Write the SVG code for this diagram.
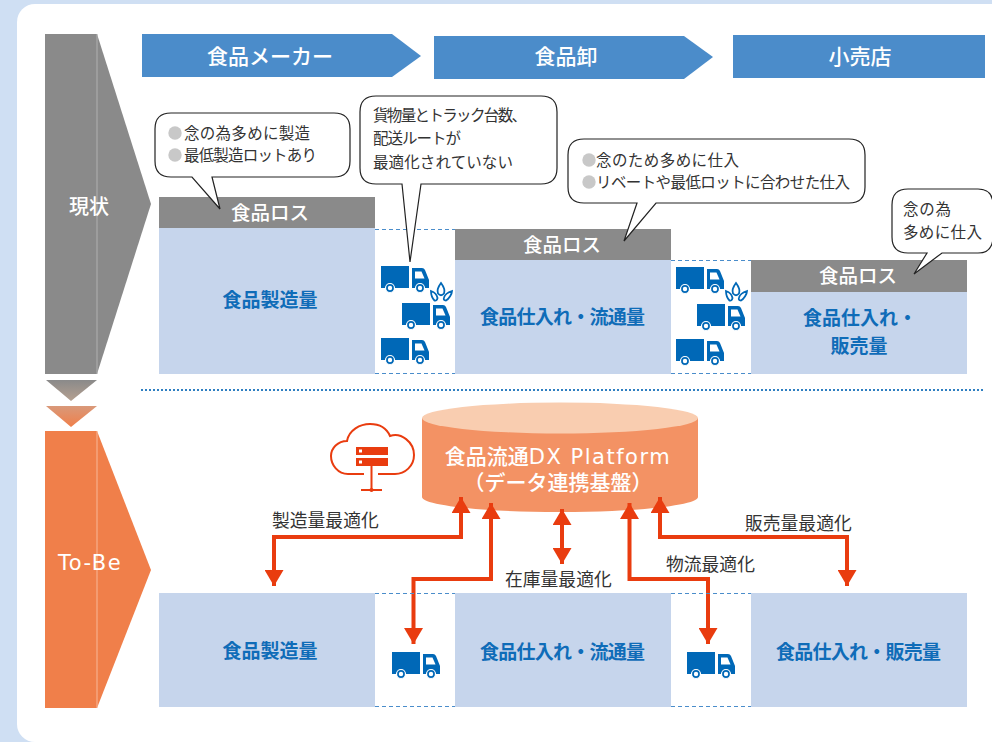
<svg xmlns="http://www.w3.org/2000/svg" width="992" height="742" viewBox="0 0 992 742">
<style>
text{font-family:"Noto Sans CJK JP","Noto Sans",sans-serif}
.hd{font-size:21px;font-weight:500;fill:#fff;text-anchor:middle}
.loss{font-size:19.500px;font-weight:500;fill:#fff;text-anchor:middle}
.vol{font-size:19px;font-weight:700;fill:#0f6cb8;text-anchor:middle}
.note{font-size:15.500px;fill:#333}
.lbl{font-size:17.800px;fill:#333}
.dot{fill:#c8c8c8}
.band{fill:#c6d5ec}
.lossbar{fill:#8a8a8a}
.bubble{fill:#fff;stroke:#222;stroke-width:1.2}
.gap{fill:none;stroke:#4a8dcb;stroke-width:1;stroke-dasharray:4 3}
.link{fill:none;stroke:#e93c0f;stroke-width:4}
.side{font-size:20px;font-weight:500;fill:#fff;text-anchor:middle}
.pf{font-size:21px;font-weight:500;fill:#fff;text-anchor:middle}
.latin{font-family:"DejaVu Sans",sans-serif;font-weight:400;letter-spacing:1.500px}
</style>
<defs>
<g id="truck">
<path d="M0 0H28V22H0Z" fill="#0068b7"/>
<path d="M31 2H41Q43 2 44 4L48 14V22H31Z" fill="#0068b7"/>
<path d="M34 5.500H40.500L43.500 12.500H34Z" fill="#fff"/>
<circle cx="9" cy="22" r="4.500" fill="#0068b7" stroke="#fff" stroke-width="1.200"/>
<circle cx="9" cy="22" r="2.200" fill="#fff"/>
<circle cx="39" cy="22" r="4.500" fill="#0068b7" stroke="#fff" stroke-width="1.200"/>
<circle cx="39" cy="22" r="2.200" fill="#fff"/>
</g>
<g id="splash" fill="#fff" stroke="#0068b7" stroke-width="1.800">
<path d="M10 0C13 4 14 8 13 10.500Q10 14 7 10.500C6 8 7 4 10 0Z"/>
<path d="M0 8C3 9 6 12 6.500 15Q6 18 3.500 17.500C1 15 0 12 0 8Z"/>
<path d="M21 8C21 11 18 16 15 17.500Q12 17.500 13 14.500C14 11 18 9 21 8Z"/>
</g>
<marker id="ah" markerUnits="userSpaceOnUse" markerWidth="17" markerHeight="19" refX="16" refY="9.500" orient="auto-start-reverse">
<path d="M0 0L16 9.500L0 19Z" fill="#e93c0f"/>
</marker>
<linearGradient id="g1" x1="0" y1="0" x2="0" y2="1"><stop offset="0" stop-color="#8a8a8a"/><stop offset="1" stop-color="#b5a090"/></linearGradient>
<linearGradient id="g2" x1="0" y1="0" x2="0" y2="1"><stop offset="0" stop-color="#d9997a"/><stop offset="1" stop-color="#f07f4a"/></linearGradient>
</defs>

<rect width="992" height="742" fill="#cfdff3"/>
<rect x="17" y="4" width="1000" height="738" rx="18" fill="#fff"/>

<g id="side-current">
<path d="M45 34H97L151 204L97 374H45Z" fill="#8a8a8a"/>
<path d="M97 34V374" stroke="#b0b0b0" stroke-width="1"/>
<text class="side" x="89" y="214">現状</text>
</g>
<g id="transition">
<path d="M46 380H97L71 401Z" fill="url(#g1)"/>
<path d="M46 406H97L71 427Z" fill="url(#g2)"/>
</g>
<g id="side-tobe">
<path d="M45 431H97L151 570L97 708H45Z" fill="#f07f4a"/>
<path d="M97 431V708" stroke="#f8b898" stroke-width="1"/>
<text class="side latin" x="90" y="570" font-size="21" style="font-size:21px">To-Be</text>
</g>

<g id="header-maker">
<path d="M142 34H392L421 56L392 77H142Z" fill="#4b8cca"/>
<text class="hd" x="270" y="64">食品メーカー</text>
</g>
<g id="header-wholesale">
<path d="M434 36H684L713 57L684 79H434Z" fill="#4b8cca"/>
<text class="hd" x="566" y="64">食品卸</text>
</g>
<g id="header-retail">
<rect x="733" y="35" width="252" height="43" fill="#4b8cca"/>
<text class="hd" x="860" y="64">小売店</text>
</g>

<g id="divider"><path d="M141 390H985" stroke="#2f7fc1" stroke-width="2" stroke-dasharray="2 2" fill="none"/></g>

<g id="maker-current">
<rect class="band" x="159" y="228" width="216" height="146"/>
<rect class="lossbar" x="159" y="197" width="216" height="31"/>
<text class="loss" x="270" y="220">食品ロス</text>
<text class="vol" x="270" y="307">食品製造量</text>
</g>
<g id="gap-current-1">
<path class="gap" d="M375 229.500H455M375 373.500H455"/>
<use href="#truck" x="381" y="266"/>
<use href="#truck" x="402" y="303"/>
<use href="#truck" x="381" y="338"/>
<use href="#splash" x="431" y="283"/>
</g>
<g id="wholesale-current">
<rect class="band" x="455" y="260" width="216" height="114"/>
<rect class="lossbar" x="455" y="229" width="216" height="31"/>
<text class="loss" x="562" y="252">食品ロス</text>
<text class="vol" x="562.500" y="324" textLength="165">食品仕入れ・流通量</text>
</g>
<g id="gap-current-2">
<path class="gap" d="M671 260.500H751M671 373.500H751"/>
<use href="#truck" x="676" y="267"/>
<use href="#truck" x="697" y="304"/>
<use href="#truck" x="676" y="339"/>
<use href="#splash" x="726" y="283"/>
</g>
<g id="retail-current">
<rect class="band" x="751" y="292" width="216" height="82"/>
<rect class="lossbar" x="751" y="260" width="216" height="32"/>
<text class="loss" x="858" y="283">食品ロス</text>
<text class="vol" x="860" y="325">食品仕入れ・</text>
<text class="vol" x="859" y="353">販売量</text>
</g>

<g id="bubble-maker">
<path class="bubble" d="M171 113H334Q350 113 350 129V161Q350 177 334 177H212L220 209L192 177H171Q155 177 155 161V129Q155 113 171 113Z"/>
<circle class="dot" cx="175" cy="133" r="6.700"/>
<circle class="dot" cx="175" cy="155" r="6.700"/>
<text class="note" x="184" y="139" textLength="126">念の為多めに製造</text>
<text class="note" x="184" y="161" textLength="133">最低製造ロットあり</text>
</g>
<g id="bubble-logistics">
<path class="bubble" d="M376 96H541Q557 96 557 112V168Q557 184 541 184H421L410 262L402 184H376Q360 184 360 168V112Q360 96 376 96Z"/>
<text class="note" x="373" y="121" textLength="154">貨物量とトラック台数、</text>
<text class="note" x="373" y="144" textLength="88">配送ルートが</text>
<text class="note" x="373" y="168" textLength="140">最適化されていない</text>
</g>
<g id="bubble-wholesale">
<path class="bubble" d="M584 139H849Q865 139 865 155V187Q865 203 849 203H656L624 241L637 203H584Q568 203 568 187V155Q568 139 584 139Z"/>
<circle class="dot" cx="589" cy="160" r="6.700"/>
<circle class="dot" cx="589" cy="182" r="6.700"/>
<text class="note" x="596" y="166" textLength="143">念のため多めに仕入</text>
<text class="note" x="596" y="188" textLength="254">リベートや最低ロットに合わせた仕入</text>
</g>
<g id="bubble-retail">
<path class="bubble" d="M908 189H978Q992 189 993 203V238Q992 253 978 253H942L914 274L927 253H908Q892 253 892 237V205Q892 189 908 189Z"/>
<text class="note" x="903" y="215" textLength="48">念の為</text>
<text class="note" x="903" y="238" textLength="79">多めに仕入</text>
</g>

<g id="cloud" fill="none" stroke="#e93c0f">
<path stroke-width="2" d="M364 474H348C338 474 331 465 331 456C331 448 338 441 347 441C349 430 360 424 370 424C380 424 387 429 390 436C401 432 414 442 414 455C414 466 405 474 395 474H378"/>
<rect x="356" y="447" width="32" height="8" fill="#e93c0f" stroke="none"/>
<rect x="356" y="458" width="32" height="8" fill="#e93c0f" stroke="none"/>
<rect x="359" y="449.500" width="3" height="3" fill="#fff" stroke="none"/>
<rect x="359" y="460.500" width="3" height="3" fill="#fff" stroke="none"/>
<path stroke-width="2" d="M371.500 466V490M361 490H382"/>
<circle cx="371.500" cy="490" r="2" fill="#e93c0f" stroke="none"/>
</g>

<g id="platform">
<path d="M422 418V497C422 505 480 512 560 512C640 512 698 505 698 497V418Z" fill="#f39264"/>
<ellipse cx="560" cy="418" rx="138" ry="15.500" fill="#f9cdb0"/>
<text class="pf" x="558" y="464">食品流通<tspan class="latin">DX Platform</tspan></text>
<text class="pf" x="558" y="490">（データ連携基盤）</text>
</g>

<g id="connectors">
<path class="link" marker-start="url(#ah)" marker-end="url(#ah)" d="M274 586V537H461V497"/>
<path class="link" marker-start="url(#ah)" marker-end="url(#ah)" d="M413.500 644V579H491V503"/>
<path class="link" marker-start="url(#ah)" marker-end="url(#ah)" d="M562 509V564"/>
<path class="link" marker-start="url(#ah)" marker-end="url(#ah)" d="M629.500 503V579H708V644"/>
<path class="link" marker-start="url(#ah)" marker-end="url(#ah)" d="M660 497V537H847V586"/>
</g>
<g id="connector-labels">
<text class="lbl" x="272" y="526.500">製造量最適化</text>
<text class="lbl" x="505" y="585.500">在庫量最適化</text>
<text class="lbl" x="666" y="570.500">物流最適化</text>
<text class="lbl" x="745" y="530">販売量最適化</text>
</g>

<g id="maker-tobe">
<rect class="band" x="159" y="593" width="216" height="114"/>
<text class="vol" x="270" y="658">食品製造量</text>
</g>
<g id="gap-tobe-1">
<path class="gap" d="M375 593.500H455M375 706.500H455"/>
<use href="#truck" x="392" y="652"/>
</g>
<g id="wholesale-tobe">
<rect class="band" x="455" y="593" width="216" height="114"/>
<text class="vol" x="562.500" y="659" textLength="165">食品仕入れ・流通量</text>
</g>
<g id="gap-tobe-2">
<path class="gap" d="M671 593.500H751M671 706.500H751"/>
<use href="#truck" x="687" y="652"/>
</g>
<g id="retail-tobe">
<rect class="band" x="751" y="593" width="216" height="114"/>
<text class="vol" x="858.500" y="659" textLength="165">食品仕入れ・販売量</text>
</g>
</svg>
